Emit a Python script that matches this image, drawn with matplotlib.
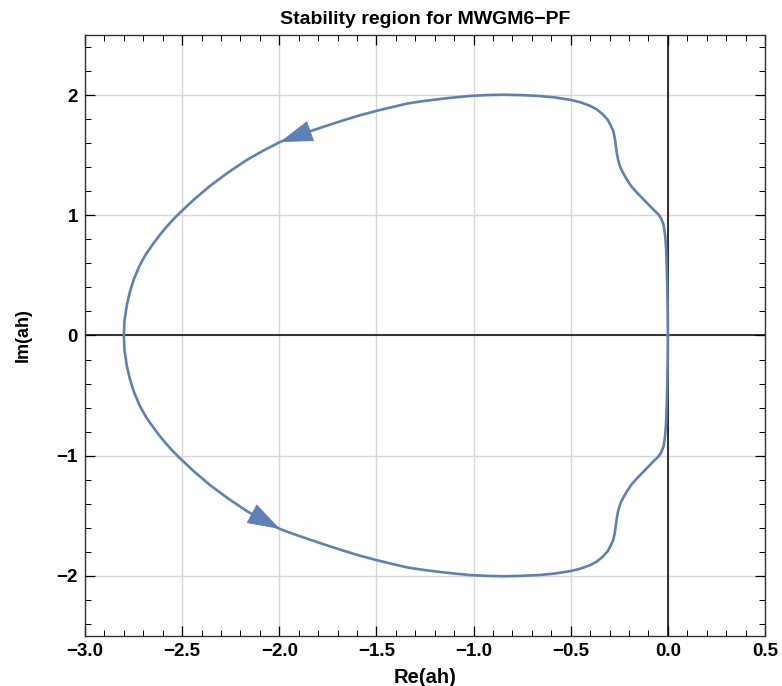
import matplotlib
matplotlib.use('Agg')
import matplotlib.pyplot as plt
from matplotlib.patches import FancyArrowPatch
from matplotlib.ticker import MultipleLocator

plt.rcParams['font.family'] = ['Liberation Sans', 'DejaVu Sans']

# boundary of the stability region
# upper half, from the origin going left (counter-clockwise)
upper_re = [0.0, -0.001, -0.003, -0.006, -0.009, -0.014, -0.022, -0.035, -0.05, -0.07,
            -0.1, -0.13, -0.16, -0.19, -0.212, -0.23, -0.245, -0.256, -0.263, -0.268,
            -0.273, -0.281, -0.295, -0.31, -0.335, -0.365, -0.401, -0.45, -0.504, -0.59,
            -0.675, -0.76, -0.847, -0.93, -1.01, -1.09, -1.17, -1.259, -1.34, -1.42,
            -1.499, -1.59, -1.68, -1.77, -1.859, -1.93, -1.996, -2.08, -2.168, -2.26,
            -2.357, -2.44, -2.52, -2.555, -2.588, -2.618, -2.645, -2.668, -2.685, -2.703,
            -2.72, -2.735, -2.748, -2.76, -2.77, -2.785, -2.797, -2.80]
upper_im = [0.0, 0.2, 0.4, 0.58, 0.72, 0.83, 0.92, 0.975, 1.01, 1.04,
            1.09, 1.14, 1.19, 1.245, 1.3, 1.35, 1.40, 1.46, 1.52, 1.58,
            1.64, 1.70, 1.75, 1.795, 1.84, 1.88, 1.911, 1.94, 1.961, 1.982,
            1.994, 2.0, 2.003, 2.0, 1.994, 1.982, 1.968, 1.95, 1.93, 1.90,
            1.869, 1.83, 1.785, 1.738, 1.689, 1.65, 1.61, 1.54, 1.46, 1.36,
            1.244, 1.13, 1.008, 0.95, 0.89, 0.83, 0.772, 0.72, 0.68, 0.63,
            0.578, 0.52, 0.47, 0.41, 0.356, 0.25, 0.12, 0.0]
# lower half, from the leftmost point back to the origin
lower_re = [-2.797, -2.785, -2.77, -2.76, -2.748, -2.735, -2.72, -2.703, -2.685, -2.668,
            -2.645, -2.618, -2.588, -2.555, -2.52, -2.44, -2.357, -2.26, -2.168, -2.08,
            -1.996, -1.93, -1.859, -1.77, -1.68, -1.59, -1.499, -1.42, -1.34, -1.259,
            -1.17, -1.09, -1.01, -0.93, -0.847, -0.76, -0.675, -0.59, -0.504, -0.45,
            -0.401, -0.365, -0.335, -0.31, -0.295, -0.281, -0.273, -0.268, -0.263, -0.256,
            -0.245, -0.23, -0.212, -0.19, -0.16, -0.13, -0.1, -0.07, -0.05, -0.035,
            -0.022, -0.014, -0.009, -0.006, -0.003, -0.001, 0.0]
lower_im = [-0.12, -0.25, -0.356, -0.41, -0.47, -0.52, -0.578, -0.63, -0.68, -0.72,
            -0.772, -0.83, -0.89, -0.95, -1.008, -1.13, -1.244, -1.36, -1.46, -1.54,
            -1.61, -1.65, -1.689, -1.738, -1.785, -1.83, -1.869, -1.90, -1.93, -1.95,
            -1.968, -1.982, -1.994, -2.0, -2.003, -2.0, -1.994, -1.982, -1.961, -1.94,
            -1.911, -1.88, -1.84, -1.795, -1.75, -1.70, -1.64, -1.58, -1.52, -1.46,
            -1.40, -1.35, -1.3, -1.245, -1.19, -1.14, -1.09, -1.04, -1.01, -0.975,
            -0.92, -0.83, -0.72, -0.58, -0.4, -0.2, 0.0]

# arrowheads: (tail, tip) on the curve
arrow_tails = [(-1.859, 1.689), (-2.168, -1.46)]
arrow_tips = [(-1.996, 1.61), (-1.996, -1.61)]

x_ticks = [-3.0, -2.5, -2.0, -1.5, -1.0, -0.5, 0.0, 0.5]
y_ticks = [-2, -1, 0, 1, 2]

line_color = '#5E81B5'

fig = plt.figure(figsize=(7.82, 6.86), dpi=100)
ax = fig.add_axes([0.1087, 0.0729, 0.8696, 0.8761])

ax.plot(upper_re + lower_re, upper_im + lower_im, color=line_color, lw=1.9,
        solid_joinstyle='round', zorder=3)

for tail, tip in zip(arrow_tails, arrow_tips):
    arr = FancyArrowPatch(tail, tip, arrowstyle='-|>,head_length=1.1,head_width=0.36',
                          mutation_scale=20, color=line_color, lw=0.6,
                          shrinkA=0, shrinkB=0, zorder=4)
    ax.add_patch(arr)

ax.axhline(0, color='black', lw=1.1, zorder=2)
ax.axvline(0, color='black', lw=1.1, zorder=2)

ax.set_xlim(-3.0, 0.5)
ax.set_ylim(-2.5, 2.5)
ax.set_xticks(x_ticks)
ax.set_yticks(y_ticks)
ax.set_xticklabels([('%.1f' % v).replace('-', '\u2212') for v in x_ticks])
ax.set_yticklabels([str(v).replace('-', '\u2212') for v in y_ticks])
ax.xaxis.set_minor_locator(MultipleLocator(0.1))
ax.yaxis.set_minor_locator(MultipleLocator(0.2))
ax.grid(True, which='major', color='#d6d6d6', lw=1.0, zorder=0)

ax.tick_params(which='both', direction='in', top=True, right=True, colors='black',
               labelsize=13.5)
ax.tick_params(which='major', length=7, width=0.9, pad=5)
ax.tick_params(which='minor', length=4, width=0.7)
for lab in ax.get_xticklabels() + ax.get_yticklabels():
    lab.set_fontweight('bold')
for s in ax.spines.values():
    s.set_color('#333333')
    s.set_linewidth(1.0)

ax.set_xlabel('Re(ah)', fontsize=14.5, fontweight='bold', labelpad=6)
ax.set_ylabel('Im(ah)', fontsize=13, fontweight='bold', labelpad=18)
ax.set_title('Stability region for MWGM6\u2212PF', fontsize=14, fontweight='bold', pad=8)

fig.savefig('out.png', dpi=100)
